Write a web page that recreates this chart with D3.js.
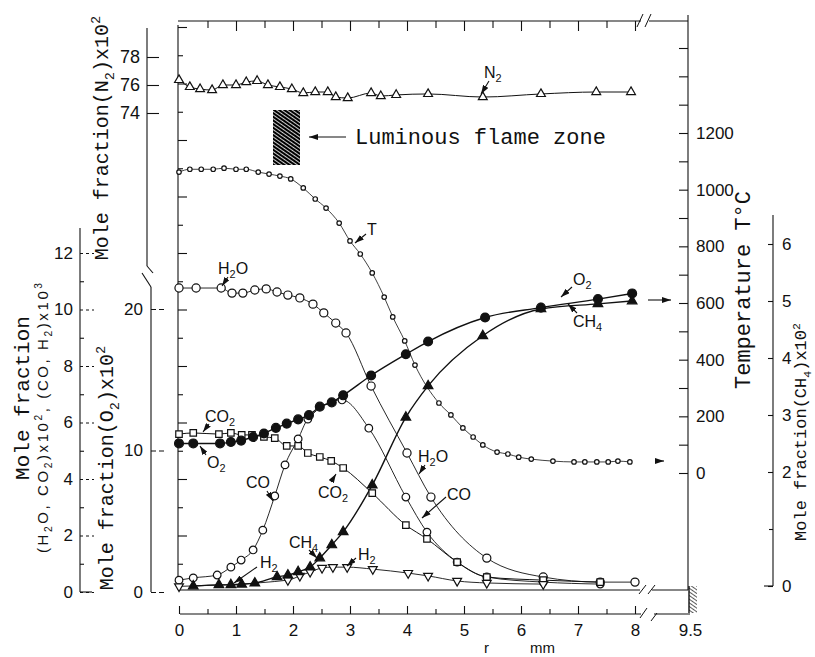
<!DOCTYPE html>
<html><head><meta charset="utf-8">
<script src="https://cdn.jsdelivr.net/npm/d3@7"></script>
<style>body{margin:0;background:#fff}</style>
</head><body>
<svg id="c" width="815" height="657" xmlns="http://www.w3.org/2000/svg"></svg>
<script>
// ---------------- DATA ----------------
const rTicks = [0,1,2,3,4,5,6,7,8];
const rBreakTick = [9.5];
const H_ticks = [0,2,4,6,8,10,12];
const O2_ticks = [0,10,20];
const N2_ticks = [74,76,78];
const T_ticks = [0,200,400,600,800,1000,1200];
const CH4_ticks = [0,2,3,4,5,6];

const N2_r = [0,0.19,0.37,0.58,0.77,1.0,1.18,1.37,1.56,1.77,1.98,2.18,2.39,2.61,2.75,2.96,3.37,3.54,3.81,4.37,5.33,6.35,7.32,7.93];
const N2_v = [76.36,75.86,75.71,75.64,76.0,76.0,76.21,76.29,76.0,75.86,75.71,75.43,75.5,75.5,75.14,75.07,75.43,75.21,75.29,75.36,75.14,75.36,75.5,75.5];

const T_r = [0,0.19,0.39,0.6,0.79,1.0,1.18,1.39,1.58,1.77,1.96,2.18,2.39,2.58,2.81,3.0,3.18,3.39,3.6,3.75,3.96,4.14,4.56,4.77,4.98,5.16,5.33,5.58,5.77,5.96,6.18,6.56,6.93,7.12,7.33,7.53,7.7,7.91];
const T_v = [1062,1072,1072,1072,1076,1072,1072,1062,1055,1048,1038,1006,967,935,882,819,773,706,621,551,466,381,247,205,159,127,99,74,67,56,49,42,39,39,39,39,42,39];

const H2O_r = [0,0.3,0.74,0.93,1.12,1.33,1.53,1.72,1.91,2.12,2.35,2.54,2.75,2.93,3.37,4.0,4.42,5.4,6.39,7.39,8.0];
const H2O_v = [10.76,10.76,10.76,10.58,10.58,10.69,10.73,10.62,10.51,10.41,10.19,9.88,9.52,9.17,7.29,4.92,3.36,1.2,0.53,0.35,0.35];

const CO2_r = [0,0.25,0.7,0.91,1.1,1.28,1.49,1.68,1.89,2.09,2.26,2.47,2.67,2.88,3.39,3.98,4.35,4.88,5.4,6.39,7.39];
const CO2_v = [5.59,5.63,5.59,5.63,5.56,5.56,5.49,5.45,5.17,5.17,4.92,4.78,4.64,4.39,3.5,2.37,1.88,1.06,0.53,0.42,0.35];

const CO_r = [0,0.25,0.67,0.91,1.09,1.3,1.47,1.68,1.86,2.09,2.26,2.86,3.33,3.98,4.35,4.88,5.4,6.39,7.39];
const CO_v = [0.42,0.5,0.6,0.88,1.13,1.49,2.19,3.4,4.5,5.42,6.12,6.8,5.8,3.36,2.12,1.06,0.53,0.35,0.28];

const H2_r = [0,1.91,2.12,2.3,2.51,2.7,2.95,3.4,4.02,4.37,4.88,5.4,6.39];
const H2_v = [0.2,0.42,0.57,0.71,0.85,0.88,0.88,0.81,0.67,0.57,0.39,0.32,0.28];

const O2_r = [0,0.25,0.72,0.91,1.09,1.3,1.49,1.7,1.89,2.09,2.28,2.47,2.68,2.88,3.37,3.98,4.37,5.37,6.35,7.35,7.95];
const O2_v = [10.5,10.5,10.5,10.6,10.7,10.95,11.2,11.6,11.9,12.2,12.5,13.1,13.4,13.9,15.3,16.8,17.7,19.4,20.1,20.7,21.1];

const CH4_r = [0.25,0.7,0.91,1.1,1.33,1.72,1.91,2.09,2.3,2.47,2.68,2.88,3.39,3.98,4.37,5.33,6.35,7.35,7.95];
const CH4_v = [0,0.02,0.02,0.03,0.05,0.16,0.19,0.25,0.33,0.49,0.72,0.95,1.77,2.96,3.51,4.39,4.86,4.95,5.0];

// ---------------- SETUP ----------------
const MONO = "'Liberation Mono','DejaVu Sans Mono',monospace";
const SANS = "'Liberation Sans','DejaVu Sans',Arial,sans-serif";
const INK = "#111";
const svg = d3.select('#c');
svg.append('rect').attr('width',815).attr('height',657).attr('fill','#fff');
const defs = svg.append('defs');
defs.append('marker').attr('id','ah').attr('viewBox','0 0 9 6').attr('refX',9).attr('refY',3)
  .attr('markerWidth',9).attr('markerHeight',6).attr('markerUnits','userSpaceOnUse').attr('orient','auto')
  .append('path').attr('d','M0,0L9,3L0,6Z').attr('fill',INK);
const hp = defs.append('pattern').attr('id','hatch').attr('patternUnits','userSpaceOnUse')
  .attr('width',3).attr('height',3).attr('patternTransform','rotate(-55)');
hp.append('rect').attr('width',3).attr('height',3).attr('fill','#fff');
hp.append('rect').attr('width',2.2).attr('height',3).attr('fill','#000');
const hp2 = defs.append('pattern').attr('id','hatch2').attr('patternUnits','userSpaceOnUse')
  .attr('width',3).attr('height',3).attr('patternTransform','rotate(-55)');
hp2.append('rect').attr('width',0.8).attr('height',3).attr('fill','#333');

// scales
const x  = d3.scaleLinear().domain([0,8]).range([179,635]);
const xb = d3.scaleLinear().domain([9,9.5]).range([661.5,690]);
const yH = d3.scaleLinear().domain([0,12]).range([592,253]);
const yO = d3.scaleLinear().domain([0,20]).range([592,309]);
const yN = d3.scaleLinear().domain([74,78]).range([113,57]);
const yT = d3.scaleLinear().domain([0,1200]).range([473,133]);
const yC = d3.scaleLinear().domain([0,6]).range([586,244]);

function ln(x1,y1,x2,y2,w){ return svg.append('line').attr('x1',x1).attr('y1',y1).attr('x2',x2).attr('y2',y2).attr('stroke',INK).attr('stroke-width',w||1.1); }
function arrow(x1,y1,x2,y2){ ln(x1,y1,x2,y2,1.1).attr('marker-end','url(#ah)'); }
function styleAxis(g, fs){
  g.select('.domain').remove();
  g.selectAll('line').attr('stroke',INK).attr('stroke-width',1.1);
  g.selectAll('text').attr('font-family',SANS).attr('font-size',fs||17).attr('fill',INK);
  g.attr('font-size',null);
}
function richText(g, parts, fs){
  let shift = 0;
  parts.forEach(([t,m])=>{
    const target = m===1 ? fs*0.28 : (m===-1 ? -fs*0.38 : 0);
    g.append('tspan').attr('dy', target-shift).attr('font-size', m? fs*0.68 : fs).text(t);
    shift = target;
  });
}
function label(xp,yp,parts,fs){
  const t = svg.append('text').attr('x',xp).attr('y',yp).attr('font-family',SANS).attr('font-size',fs||16).attr('fill',INK);
  richText(t,parts,fs||16);
  return t;
}
function rotTitle(cx,cy,parts,fs,fam,len){
  const t = svg.append('text').attr('transform',`translate(${cx},${cy}) rotate(-90)`)
    .attr('text-anchor','middle').attr('font-family',fam).attr('font-size',fs).attr('fill',INK);
  if(len){ t.attr('textLength',len).attr('lengthAdjust','spacing'); }
  richText(t,parts,fs);
  return t;
}

// ---------------- FRAME ----------------
const fL = 178, fR = 688, fT = 21, fB = 590;
ln(fL,25,fL,fB);
ln(fL,fT,641,fT); ln(649,fT,fR,fT);
ln(637,27,643,14,1); ln(645,27,651,14,1);
ln(fR,15,fR,fB);
ln(fL,fB,640,fB); ln(652,fB,fR,fB);
ln(639,fB+4,646,fB-5,1); ln(648,fB+4,655,fB-5,1);
svg.append('rect').attr('x',689).attr('y',586).attr('width',8).attr('height',27).attr('fill','url(#hatch2)');
ln(689,586,689,613,1.4);

const gLF = svg.append('g').attr('transform',`translate(${fL},0)`)
  .call(d3.axisRight(yH).tickValues(d3.range(2,21,2)).tickSize(9).tickFormat(''));
styleAxis(gLF);
const gLF2 = svg.append('g').attr('transform',`translate(${fL},0)`)
  .call(d3.axisRight(yH).tickValues(d3.range(1,20,2)).tickSize(5).tickFormat(''));
styleAxis(gLF2);
const gTF = svg.append('g').attr('transform',`translate(0,${fT})`)
  .call(d3.axisTop(x).tickValues(d3.range(1,9,1)).tickSize(-10).tickFormat(''));
styleAxis(gTF);
const gTF2 = svg.append('g').attr('transform',`translate(0,${fT})`)
  .call(d3.axisTop(x).tickValues(d3.range(0.5,8,1)).tickSize(-7).tickFormat(''));
styleAxis(gTF2);

// ---------------- BOTTOM X AXIS ----------------
const xAxY = 614;
ln(180,xAxY,641,xAxY); ln(654,xAxY,690,xAxY);
ln(640,xAxY+4,647,xAxY-6,1); ln(651,xAxY+7,657,xAxY-1,1);
const gX = svg.append('g').attr('transform',`translate(0,${xAxY})`)
  .call(d3.axisBottom(x).tickValues(rTicks).tickSize(-8).tickPadding(10).tickFormat(d3.format('d')));
styleAxis(gX,17);
const gX2 = svg.append('g').attr('transform',`translate(0,${xAxY})`)
  .call(d3.axisBottom(x).tickValues(d3.range(0.5,8,1)).tickSize(-5).tickFormat(''));
styleAxis(gX2);
const gXb = svg.append('g').attr('transform',`translate(0,${xAxY})`)
  .call(d3.axisBottom(xb).tickValues(rBreakTick).tickSize(0).tickPadding(10).tickFormat(d3.format('.1f')));
styleAxis(gXb,17);
svg.append('text').attr('x',484).attr('y',653).attr('font-family',SANS).attr('font-size',15).attr('fill',INK).text('r');
svg.append('text').attr('x',530).attr('y',653).attr('font-family',SANS).attr('font-size',15).attr('fill',INK).text('mm');

// ---------------- LEFT AXES ----------------
const xH = 80;
ln(xH,228,xH,592); ln(xH,592,92,592);
const gH = svg.append('g').attr('transform',`translate(${xH},0)`)
  .call(d3.axisLeft(yH).tickValues(H_ticks).tickSize(-14).tickPadding(7).tickFormat(d3.format('d')));
styleAxis(gH,17);
gH.selectAll('line').attr('stroke-dasharray','3,3');
const gHm = svg.append('g').attr('transform',`translate(${xH},0)`)
  .call(d3.axisLeft(yH).tickValues(d3.range(1,12,2)).tickSize(-4).tickFormat(''));
styleAxis(gHm);

const xO = 151;
ln(142,273,151,287); ln(xO,287,xO,592);
const gO = svg.append('g').attr('transform',`translate(${xO},0)`)
  .call(d3.axisLeft(yO).tickValues(O2_ticks).tickSize(-13).tickPadding(8).tickFormat(d3.format('d')));
styleAxis(gO,17);
gO.selectAll('line').attr('stroke-dasharray','5,3');

const xN = 147;
ln(xN,28,xN,266); ln(xN,266,153,273);
const gN = svg.append('g').attr('transform',`translate(${xN},0)`)
  .call(d3.axisLeft(yN).tickValues(N2_ticks).tickSize(-12).tickPadding(7).tickFormat(d3.format('d')));
styleAxis(gN,18);

// ---------------- RIGHT AXES ----------------
const gT = svg.append('g').attr('transform',`translate(${fR},0)`)
  .call(d3.axisRight(yT).tickValues(T_ticks).tickSize(-9).tickPadding(8).tickFormat(d3.format('d')));
styleAxis(gT,17);
const gTm = svg.append('g').attr('transform',`translate(${fR},0)`)
  .call(d3.axisRight(yT).tickValues([100,300,500,700,900,1100,1300,1400,1500]).tickSize(-9).tickFormat(''));
styleAxis(gTm);

const xC = 773;
ln(xC,215,xC,586); ln(764,586,xC,586);
const gC = svg.append('g').attr('transform',`translate(${xC},0)`)
  .call(d3.axisRight(yC).tickValues(CH4_ticks).tickSize(-5).tickPadding(9).tickFormat(d3.format('d')));
styleAxis(gC,17);
const gCm = svg.append('g').attr('transform',`translate(${xC},0)`)
  .call(d3.axisRight(yC).tickValues([1]).tickSize(-4).tickFormat(''));
styleAxis(gCm);

// ---------------- AXIS TITLES ----------------
rotTitle(108,138,[['Mole fraction(N',0],['2',1],[')x10',0],['2',-1]],20,MONO);
rotTitle(113,468,[['Mole fraction(O',0],['2',1],[')x10',0],['2',-1]],20,MONO);
rotTitle(29,398,[['Mole fraction',0]],21,MONO);
rotTitle(48,418,[['(H',0],['2',1],['O, CO',0],['2',1],[')x10',0],['2',-1],[', (CO, H',0],['2',1],[')x10',0],['3',-1]],15,SANS,270);
rotTitle(750,290,[['Temperature T°C',0]],22,MONO);
rotTitle(806,432,[['Mole fraction(CH',0],['4',1],[')x10',0],['2',-1]],17,MONO);

// ---------------- LUMINOUS ZONE ----------------
svg.append('rect').attr('x',273).attr('y',110).attr('width',27).attr('height',55).attr('fill','url(#hatch)');
arrow(346,137,309,137);
svg.append('text').attr('x',355).attr('y',144).attr('font-family',MONO).attr('font-size',22).attr('fill',INK).text('Luminous flame zone');

// ---------------- SERIES ----------------
function zip(r,v){ return r.map((d,i)=>[d,v[i]]); }
const series = [
  {d:zip(N2_r,N2_v),  y:yN, sym:d3.symbolTriangle, size:34, fill:'#fff', lw:1.0, rot:0},
  {d:zip(T_r,T_v),    y:yT, sym:d3.symbolCircle,   size:16, fill:'#fff', lw:0.8, rot:0},
  {d:zip(H2O_r,H2O_v),y:yH, sym:d3.symbolCircle,   size:52, fill:'#fff', lw:0.9, rot:0},
  {d:zip(CO_r,CO_v),  y:yH, sym:d3.symbolCircle,   size:46, fill:'#fff', lw:0.9, rot:0},
  {d:zip(CO2_r,CO2_v),y:yH, sym:d3.symbolSquare,   size:42, fill:'#fff', lw:1.0, rot:0},
  {d:zip(H2_r,H2_v),  y:yH, sym:d3.symbolTriangle, size:34, fill:'#fff', lw:0.9, rot:180},
  {d:zip(O2_r,O2_v),  y:yO, sym:d3.symbolCircle,   size:62, fill:INK,    lw:1.4, rot:0},
  {d:zip(CH4_r,CH4_v),y:yC, sym:d3.symbolTriangle, size:40, fill:INK,    lw:1.4, rot:0}
];
const gLines = svg.append('g'), gPts = svg.append('g');
series.forEach(s=>{
  const line = d3.line().x(d=>x(d[0])).y(d=>s.y(d[1])).curve(d3.curveMonotoneX);
  gLines.append('path').attr('d',line(s.d)).attr('fill','none').attr('stroke',INK).attr('stroke-width',s.lw);
});
series.forEach(s=>{
  gPts.selectAll(null).data(s.d).enter().append('path')
    .attr('d',d3.symbol().type(s.sym).size(s.size))
    .attr('transform',d=>`translate(${x(d[0])},${s.y(d[1])}) rotate(${s.rot})`)
    .attr('fill',s.fill).attr('stroke',INK).attr('stroke-width',1.2);
});

arrow(648,300,671,300);
arrow(655,461,664,461);

// ---------------- CURVE LABELS ----------------
label(484,78,[['N',0],['2',1]]); arrow(489,81,481,94);
label(367,235,[['T',0]]); arrow(366,234,355,243);
label(218,274,[['H',0],['2',1],['O',0]]); arrow(228,277,222,286);
label(573,285,[['O',0],['2',1]]); arrow(572,287,561,297);
label(573,327,[['CH',0],['4',1]]); arrow(577,313,568,304);
label(205,422,[['CO',0],['2',1]]); arrow(209,424,203,432);
label(207,468,[['O',0],['2',1]]); arrow(206,455,200,446);
label(246,488,[['CO',0]]); arrow(267,491,273,501);
label(318,498,[['CO',0],['2',1]]); arrow(331,482,336,474);
label(260,568,[['H',0],['2',1]]); arrow(257,567,234,583);
label(289,548,[['CH',0],['4',1]]); arrow(309,550,317,558);
label(358,560,[['H',0],['2',1]]); arrow(356,558,347,566);
label(418,462,[['H',0],['2',1],['O',0]]); arrow(425,465,419,474);
label(447,500,[['CO',0]]); arrow(446,497,422,518);
</script>
</body></html>
